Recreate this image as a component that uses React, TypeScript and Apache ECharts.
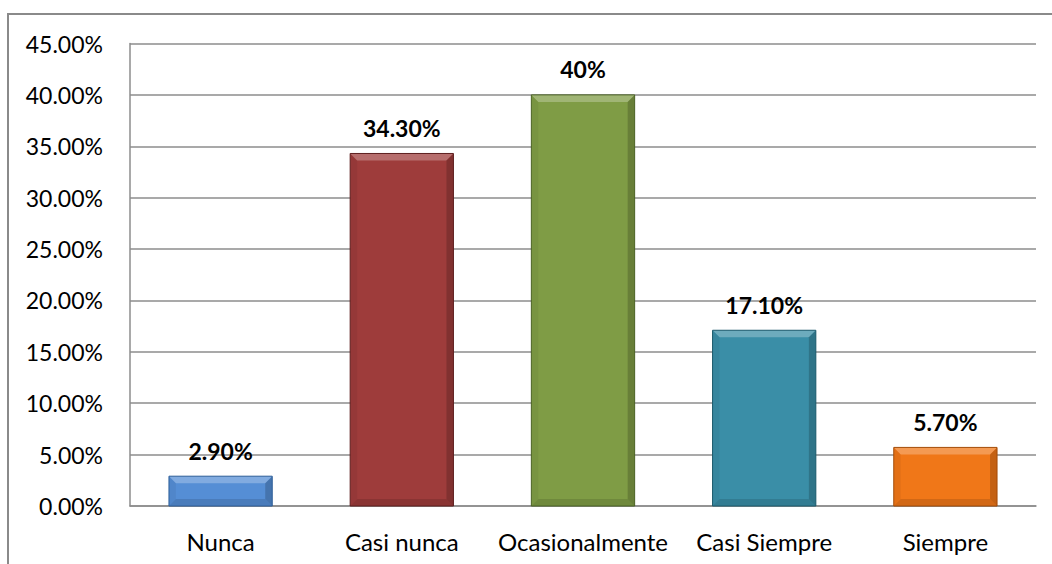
import React, { useEffect, useRef } from "react";
import * as echarts from "echarts";

// Survey response frequencies (percent of respondents)
const categories = ["Nunca", "Casi nunca", "Ocasionalmente", "Casi Siempre", "Siempre"];
const values = [2.9, 34.3, 40, 17.1, 5.7];
const valueLabels = ["2.90%", "34.30%", "40%", "17.10%", "5.70%"];
const barColors = ["#558ED5", "#9E3C3B", "#7F9C45", "#3A8EA7", "#F07718"];
const borderColors = ["#2F5F99", "#5E1F1F", "#4B6224", "#1C5A6C", "#A34C08"];

const FONT = "Lato, 'Open Sans', sans-serif";

export default function App() {
  const ref = useRef<HTMLDivElement>(null);

  useEffect(() => {
    if (!ref.current) return;
    const chart = echarts.init(ref.current, undefined, { renderer: "svg" });

    // Bevelled face drawn over each bar: light top edge, shaded right and bottom edges
    const bevel = (params: any, api: any) => {
      const idx = api.value(0);
      const v = api.value(1);
      const top = api.coord([idx, v]);
      const base = api.coord([idx, 0]);
      const band = api.size([1, 0])[0];
      const w = band * 0.57;
      const x0 = top[0] - w / 2;
      const x1 = top[0] + w / 2;
      const y0 = top[1];
      const y1 = base[1];
      const b = Math.min(7, (y1 - y0) / 2, w / 2);
      return {
        type: "group",
        children: [
          {
            type: "polygon",
            shape: { points: [[x0, y0], [x1, y0], [x1 - b, y0 + b], [x0 + b, y0 + b]] },
            style: { fill: "rgba(255,255,255,0.26)" },
          },
          {
            type: "polygon",
            shape: { points: [[x0, y0], [x0 + b, y0 + b], [x0 + b, y1 - b], [x0, y1]] },
            style: { fill: "rgba(0,0,0,0.05)" },
          },
          {
            type: "polygon",
            shape: { points: [[x1, y0], [x1, y1], [x1 - b, y1 - b], [x1 - b, y0 + b]] },
            style: { fill: "rgba(0,0,0,0.18)" },
          },
          {
            type: "polygon",
            shape: { points: [[x0, y1], [x0 + b, y1 - b], [x1 - b, y1 - b], [x1, y1]] },
            style: { fill: "rgba(0,0,0,0.12)" },
          },
          {
            type: "rect",
            shape: { x: x0, y: y0, width: w, height: y1 - y0 },
            style: { fill: "none", stroke: borderColors[idx], lineWidth: 1 },
          },
        ],
      };
    };

    chart.setOption({
      animation: false,
      backgroundColor: "#ffffff",
      grid: { left: 130, right: 16, top: 43.5, bottom: 58 },
      graphic: [
        {
          type: "rect",
          shape: { x: 8, y: 14, width: 1100, height: 600 },
          style: { fill: "none", stroke: "#8a8a8a", lineWidth: 2 },
          silent: true,
        },
      ],
      xAxis: {
        type: "category",
        data: categories,
        axisLine: { show: true, lineStyle: { color: "#8c8c8c", width: 1.5 } },
        axisTick: { show: false },
        axisLabel: {
          color: "#000",
          fontFamily: FONT,
          fontSize: 24,
          margin: 23,
          interval: 0,
          hideOverlap: false,
        },
      },
      yAxis: {
        type: "value",
        min: 0,
        max: 45,
        interval: 5,
        axisLine: { show: true, lineStyle: { color: "#8c8c8c", width: 1.5 } },
        axisTick: { show: false },
        splitLine: { show: true, lineStyle: { color: "#8c8c8c", width: 1.5 } },
        axisLabel: {
          color: "#000",
          fontFamily: FONT,
          fontSize: 23,
          margin: 27,
          formatter: (v: number) => v.toFixed(2) + "%",
        },
      },
      series: [
        {
          type: "bar",
          barWidth: "57%",
          data: values.map((v, i) => ({ value: v, itemStyle: { color: barColors[i] } })),
          label: {
            show: true,
            position: "top",
            distance: 14,
            color: "#000",
            fontFamily: FONT,
            fontSize: 23,
            fontWeight: "bold",
            formatter: (p: any) => valueLabels[p.dataIndex],
          },
          z: 2,
        },
        {
          type: "custom",
          renderItem: bevel,
          data: values.map((v, i) => [i, v]),
          silent: true,
          z: 3,
        },
      ],
    });

    return () => chart.dispose();
  }, []);

  return (
    <div
      ref={ref}
      style={{ position: "fixed", left: 0, top: 0, width: 1052, height: 564 }}
    />
  );
}
